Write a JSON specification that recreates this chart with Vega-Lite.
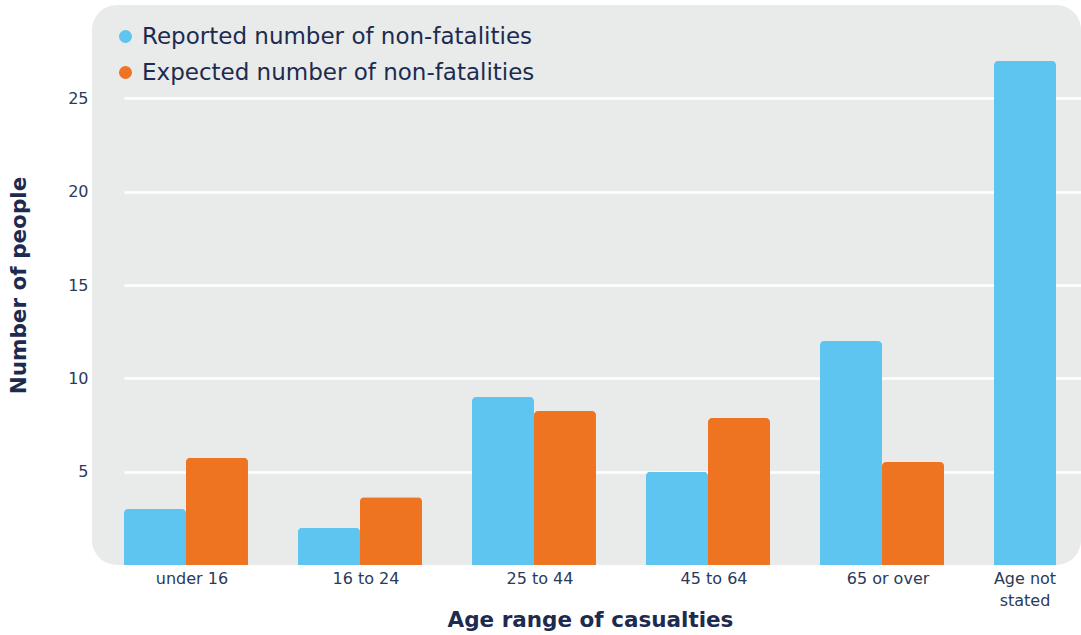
{
  "$schema": "https://vega.github.io/schema/vega-lite/v6.json",
  "autosize": "none",
  "width": 989,
  "height": 560,
  "padding": {"left": 92, "top": 5, "right": 0, "bottom": 70},
  "background": "white",
  "view": {"fill": "#e9ebea", "stroke": null, "cornerRadius": 25},
  "config": {"font": "DejaVu Sans"},
  "data": {
    "values": [
      {"age": "under 16", "series": "Reported number of non-fatalities", "people": 3},
      {"age": "under 16", "series": "Expected number of non-fatalities", "people": 5.75},
      {"age": "16 to 24", "series": "Reported number of non-fatalities", "people": 2},
      {"age": "16 to 24", "series": "Expected number of non-fatalities", "people": 3.63},
      {"age": "25 to 44", "series": "Reported number of non-fatalities", "people": 9},
      {"age": "25 to 44", "series": "Expected number of non-fatalities", "people": 8.25},
      {"age": "45 to 64", "series": "Reported number of non-fatalities", "people": 5},
      {"age": "45 to 64", "series": "Expected number of non-fatalities", "people": 7.87},
      {"age": "65 or over", "series": "Reported number of non-fatalities", "people": 12},
      {"age": "65 or over", "series": "Expected number of non-fatalities", "people": 5.52},
      {"age": "Age not stated", "series": "Reported number of non-fatalities", "people": 27}
    ]
  },
  "mark": {"type": "bar", "cornerRadiusTopLeft": 4, "cornerRadiusTopRight": 4},
  "encoding": {
    "x": {
      "field": "age",
      "type": "nominal",
      "sort": ["under 16", "16 to 24", "25 to 44", "45 to 64", "65 or over", "Age not stated"],
      "scale": {"range": [32, 1026], "paddingInner": 0.2874, "paddingOuter": 0},
      "axis": {
        "title": "Age range of casualties",
        "titleFontSize": 21.5,
        "titleFontWeight": "bold",
        "titleColor": "#1d2b4f",
        "titleX": 498,
        "titleY": 61.5,
        "titleBaseline": "alphabetic",
        "labelAngle": 0,
        "labelFontSize": 16,
        "labelColor": "#2a3a5a",
        "labelPadding": 5,
        "labelLineHeight": 22,
        "labelExpr": "datum.value == 'Age not stated' ? ['Age not', 'stated'] : datum.label",
        "labelOffset": {"condition": {"test": "datum.value == 'Age not stated'", "value": -31}, "value": 6},
        "domain": false,
        "ticks": false
      }
    },
    "xOffset": {
      "field": "series",
      "type": "nominal",
      "sort": ["Reported number of non-fatalities", "Expected number of non-fatalities"],
      "scale": {"paddingInner": 0, "paddingOuter": 0}
    },
    "y": {
      "field": "people",
      "type": "quantitative",
      "scale": {"domain": [0, 30], "nice": false},
      "axis": {
        "title": "Number of people",
        "titleFontSize": 21.5,
        "titleFontWeight": "bold",
        "titleColor": "#1d2b4f",
        "titleX": -62,
        "values": [5, 10, 15, 20, 25],
        "labelFontSize": 16,
        "labelColor": "#2a3a5a",
        "labelPadding": 4,
        "domain": false,
        "ticks": false,
        "grid": true,
        "gridColor": "white",
        "gridWidth": 2.5
      }
    },
    "color": {
      "field": "series",
      "type": "nominal",
      "sort": ["Reported number of non-fatalities", "Expected number of non-fatalities"],
      "scale": {"range": ["#5ec5f0", "#ee7421"]},
      "legend": {
        "title": null,
        "orient": "none",
        "legendX": 22,
        "legendY": 20,
        "symbolType": "circle",
        "symbolSize": 170,
        "symbolStrokeWidth": 0,
        "labelFontSize": 23,
        "labelLimit": 0,
        "labelColor": "#1d2b4f",
        "labelOffset": 5,
        "rowPadding": 12,
        "padding": 0
      }
    }
  }
}
